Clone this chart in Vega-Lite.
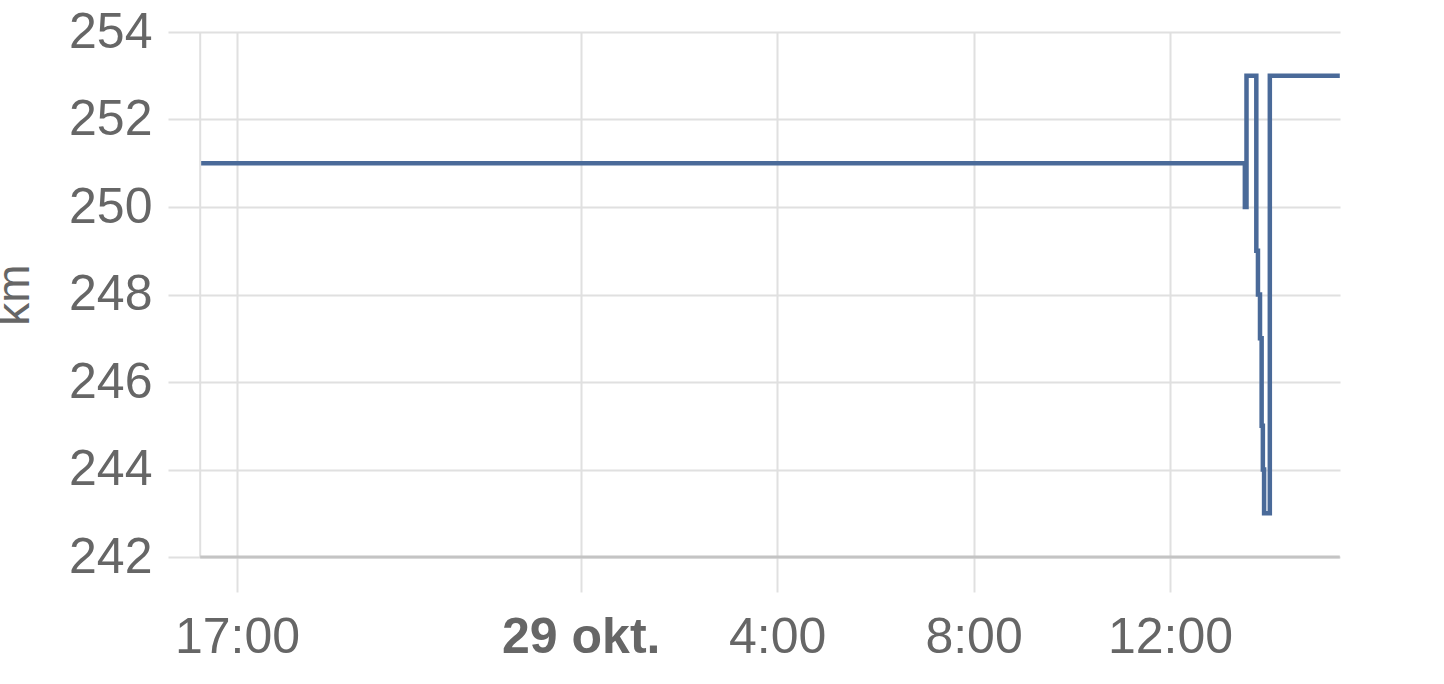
{
  "$schema": "https://vega.github.io/schema/vega-lite/v6.json",
  "autosize": "none",
  "padding": {"left": 168, "top": 32, "right": 104, "bottom": 127},
  "width": 1172,
  "height": 525,
  "config": {
    "view": {"stroke": null},
    "font": "Liberation Sans",
    "axis": {"labelFont": "Liberation Sans", "titleFont": "Liberation Sans"}
  },
  "data": {
    "values": [
      {"t": "2021-10-28T16:15:00Z", "km": 251},
      {"t": "2021-10-29T13:31:30Z", "km": 250},
      {"t": "2021-10-29T13:33:30Z", "km": 253},
      {"t": "2021-10-29T13:45:30Z", "km": 249},
      {"t": "2021-10-29T13:47:30Z", "km": 248},
      {"t": "2021-10-29T13:50:00Z", "km": 247},
      {"t": "2021-10-29T13:52:00Z", "km": 245},
      {"t": "2021-10-29T13:53:30Z", "km": 244},
      {"t": "2021-10-29T13:55:00Z", "km": 243},
      {"t": "2021-10-29T14:02:00Z", "km": 253},
      {"t": "2021-10-29T15:27:30Z", "km": 253}
    ]
  },
  "layer": [
    {
      "mark": {"type": "line", "interpolate": "step-after", "color": "#4a6a99", "strokeWidth": 4.5},
      "encoding": {
        "x": {
          "field": "t",
          "type": "temporal",
          "scale": {
            "type": "utc",
            "domain": [
              {"year": 2021, "month": 10, "date": 28, "hours": 15, "minutes": 35, "seconds": 40, "utc": true},
              {"year": 2021, "month": 10, "date": 29, "hours": 15, "minutes": 27, "seconds": 45, "utc": true}
            ]
          },
          "axis": {
            "title": null,
            "values": [
              {"year": 2021, "month": 10, "date": 28, "hours": 17, "utc": true},
              {"year": 2021, "month": 10, "date": 29, "hours": 0, "utc": true},
              {"year": 2021, "month": 10, "date": 29, "hours": 4, "utc": true},
              {"year": 2021, "month": 10, "date": 29, "hours": 8, "utc": true},
              {"year": 2021, "month": 10, "date": 29, "hours": 12, "utc": true}
            ],
            "labelExpr": "utchours(datum.value) == 0 ? '29 okt.' : utcFormat(datum.value, '%-H:%M')",
            "labelFontWeight": {"condition": {"test": "utchours(datum.value) == 0", "value": "bold"}, "value": "normal"},
            "labelFontSize": 50,
            "labelColor": "#666666",
            "labelPadding": 20,
            "labelFlush": false,
            "labelOverlap": false,
            "domain": false,
            "grid": true,
            "gridColor": "#e0e0e0",
            "gridWidth": 2,
            "tickSize": 35,
            "tickColor": "#e0e0e0",
            "tickWidth": 2
          }
        },
        "y": {
          "field": "km",
          "type": "quantitative",
          "scale": {"domain": [242, 254], "nice": false, "zero": false},
          "axis": {
            "title": "km",
            "titleFontSize": 46,
            "titleFontWeight": "normal",
            "titleColor": "#666666",
            "titlePadding": 30,
            "values": [242, 244, 246, 248, 250, 252, 254],
            "labelFontSize": 50,
            "labelColor": "#666666",
            "labelPadding": 16,
            "ticks": false,
            "domain": false,
            "grid": true,
            "gridColor": "#e0e0e0",
            "gridWidth": 2
          }
        }
      }
    },
    {
      "transform": [{"aggregate": [{"op": "min", "field": "t", "as": "t0"}, {"op": "max", "field": "t", "as": "t1"}]}],
      "layer": [
        {
          "mark": {"type": "rule", "color": "#e0e0e0", "strokeWidth": 2},
          "encoding": {
            "x": {"field": "t0", "type": "temporal"},
            "y": {"datum": 242},
            "y2": {"datum": 254}
          }
        },
        {
          "mark": {"type": "rule", "color": "#c4c4c4", "strokeWidth": 3},
          "encoding": {
            "x": {"field": "t0", "type": "temporal"},
            "x2": {"field": "t1"},
            "y": {"datum": 242}
          }
        }
      ]
    }
  ]
}
